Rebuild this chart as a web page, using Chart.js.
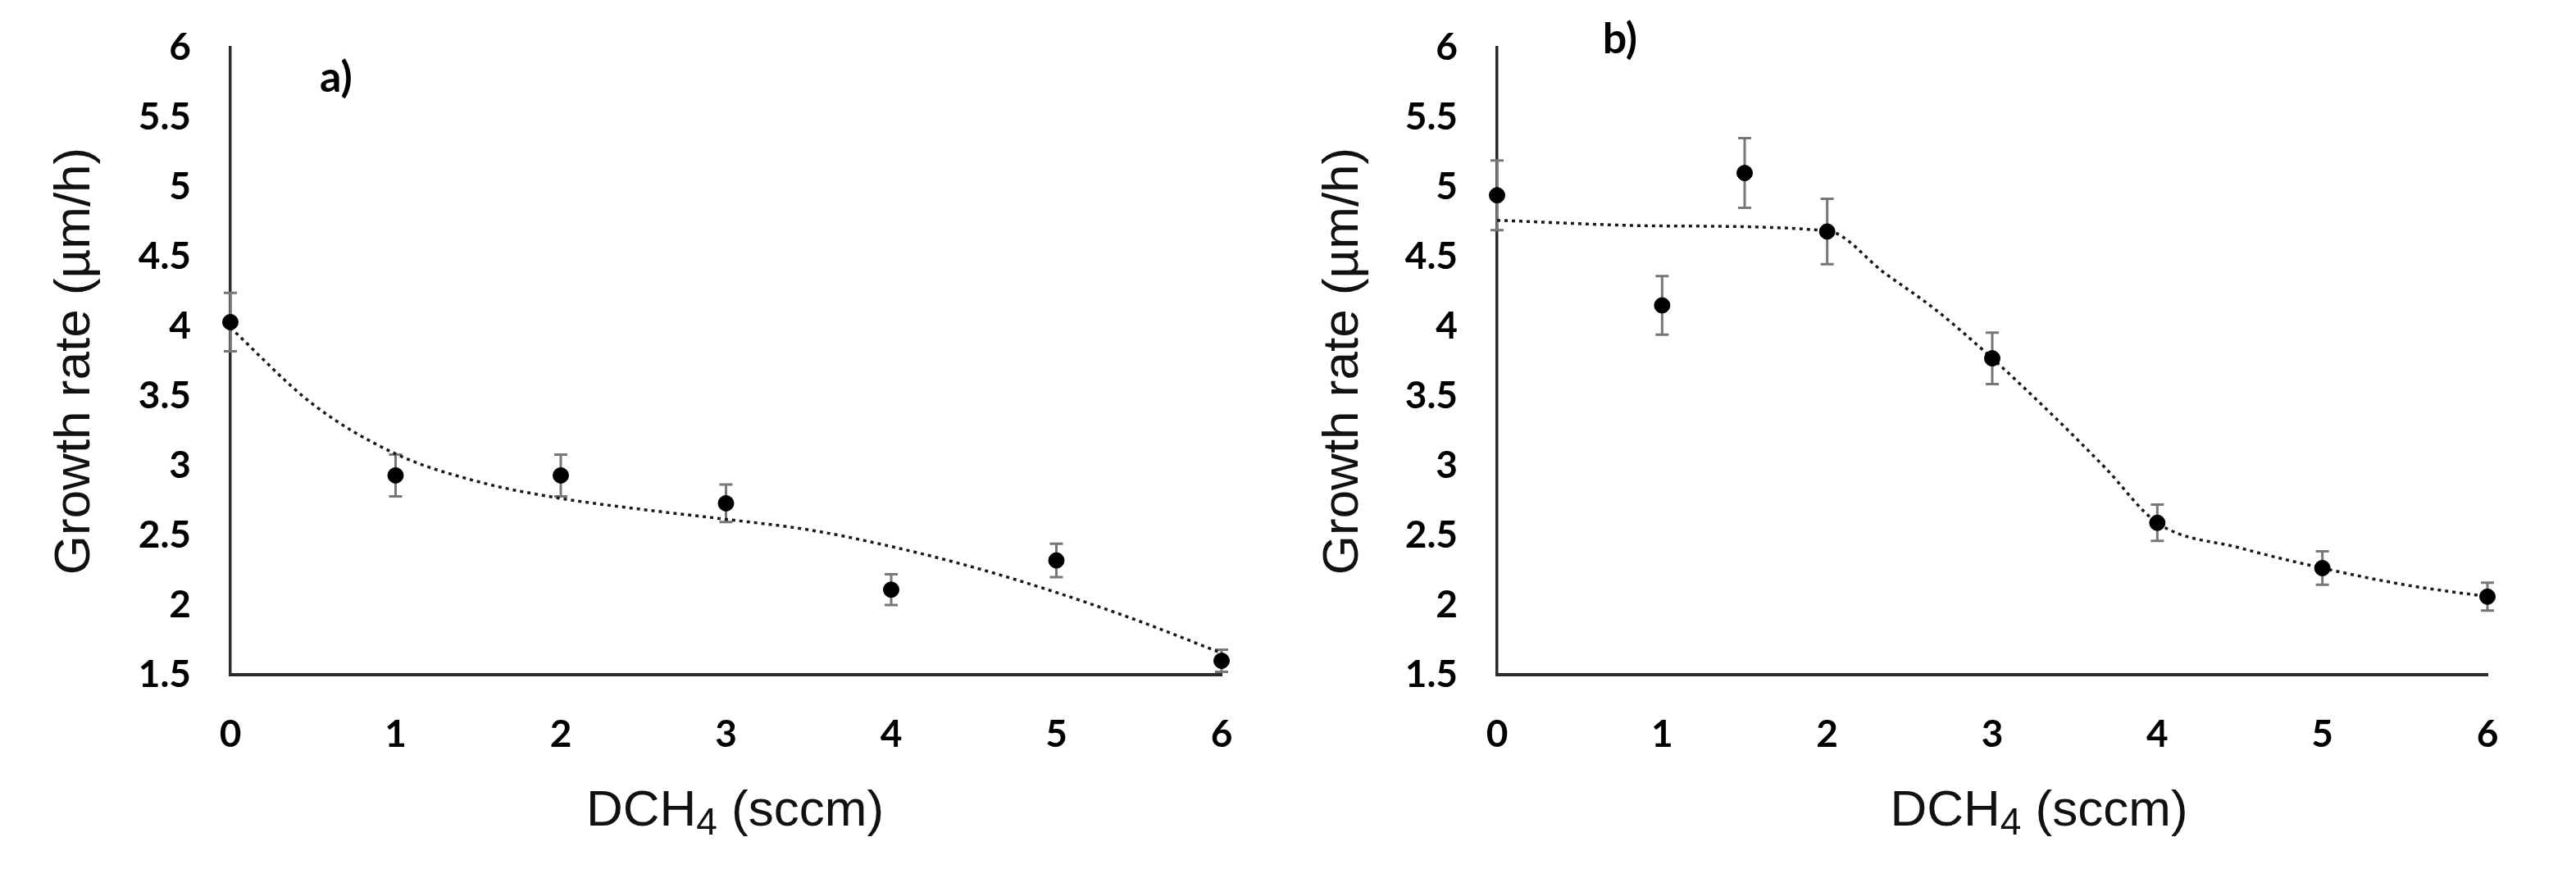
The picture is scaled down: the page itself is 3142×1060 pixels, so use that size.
<!DOCTYPE html>
<html>
<head>
<meta charset="utf-8">
<script src="https://cdn.jsdelivr.net/npm/chart.js@4.4.1/dist/chart.umd.min.js"></script>
<style>
  html, body { margin: 0; padding: 0; background: #fff; }
  #wrap { position: relative; width: 3142px; height: 1060px; }
  canvas { position: absolute; top: 0; }
</style>
</head>
<body>
<div id="wrap">
  <canvas id="chartA" width="1571" height="1060" style="left:0"></canvas>
  <canvas id="chartB" width="1571" height="1060" style="left:1571px"></canvas>
</div>
<script>
// panel a)
const aFlow = [0, 1, 2, 3, 4, 5, 6];
const aRate = [4.03, 2.93, 2.93, 2.73, 2.11, 2.32, 1.60];
const aErr = [0.21, 0.15, 0.15, 0.135, 0.11, 0.12, 0.08];
const aTrendFlow = [0, 0.5, 1, 1.5, 2, 2.5, 3, 3.5, 4, 4.5, 5, 5.5, 6];
const aTrend = [3.99, 3.44, 3.085, 2.885, 2.765, 2.685, 2.615, 2.54, 2.42, 2.27, 2.09, 1.885, 1.655];

// panel b)
const bFlow = [0, 1, 1.5, 2, 3, 4, 5, 6];
const bRate = [4.94, 4.15, 5.10, 4.68, 3.77, 2.59, 2.265, 2.06];
const bErr = [0.25, 0.21, 0.25, 0.235, 0.185, 0.13, 0.12, 0.10];
const bTrendFlow = [0, 1, 2, 2.35, 2.65, 3, 3.35, 3.68, 4, 4.5, 5, 5.5, 6];
const bTrend = [4.76, 4.72, 4.685, 4.38, 4.125, 3.77, 3.38, 2.99, 2.59, 2.41, 2.265, 2.145, 2.06];

// axes
const xTickLabels = ['0', '1', '2', '3', '4', '5', '6'];
const yTickLabels = ['1.5', '2', '2.5', '3', '3.5', '4', '4.5', '5', '5.5', '6'];

const toPoints = (xs, ys) => xs.map((x, i) => ({ x: x, y: ys[i] }));

const errorBars = {
  id: 'errorBars',
  beforeDatasetsDraw(chart, args, opts) {
    const ds = chart.data.datasets[0];
    const xs = chart.scales.x, ys = chart.scales.y;
    const ctx = chart.ctx;
    ctx.save();
    ctx.strokeStyle = '#777';
    ctx.lineWidth = 3;
    ds.data.forEach((p, i) => {
      const e = opts.errors[i];
      const px = xs.getPixelForValue(p.x);
      const top = ys.getPixelForValue(p.y + e);
      const bot = ys.getPixelForValue(p.y - e);
      ctx.beginPath();
      ctx.moveTo(px, top); ctx.lineTo(px, bot);
      ctx.moveTo(px - 8, top); ctx.lineTo(px + 8, top);
      ctx.moveTo(px - 8, bot); ctx.lineTo(px + 8, bot);
      ctx.stroke();
    });
    ctx.restore();
  }
};

// x axis title with a real subscript
const xTitle = {
  id: 'xTitle',
  afterDraw(chart, args, opts) {
    const ctx = chart.ctx;
    const xs = chart.scales.x;
    const big = '62px "Liberation Sans", Arial, sans-serif';
    const small = '46px "Liberation Sans", Arial, sans-serif';
    ctx.save();
    ctx.fillStyle = '#111';
    ctx.textBaseline = 'alphabetic';
    ctx.font = big;
    const w1 = ctx.measureText('DCH').width;
    const w3 = ctx.measureText(' (sccm)').width;
    ctx.font = small;
    const w2 = ctx.measureText('4').width;
    const cx = (xs.left + xs.right) / 2 + opts.shift;
    let x = cx - (w1 + w2 + w3) / 2;
    const base = xs.bottom - 53;
    ctx.textAlign = 'left';
    ctx.font = big;
    ctx.fillText('DCH', x, base);
    x += w1;
    ctx.font = small;
    ctx.fillText('4', x, base + 11);
    x += w2;
    ctx.font = big;
    ctx.fillText(' (sccm)', x, base);
    ctx.restore();
  }
};

const panelLabel = {
  id: 'panelLabel',
  afterDraw(chart, args, opts) {
    const ctx = chart.ctx;
    ctx.save();
    ctx.fillStyle = '#000';
    ctx.font = 'bold 52px Lato, sans-serif';
    ctx.textAlign = 'center';
    ctx.textBaseline = 'middle';
    ctx.fillText(opts.text, chart.scales.x.getPixelForValue(opts.at[0]), chart.scales.y.getPixelForValue(opts.at[1]));
    ctx.restore();
  }
};

function makeChart(id, flow, rate, err, trendFlow, trend, cfg) {
  return new Chart(document.getElementById(id), {
    type: 'scatter',
    data: {
      datasets: [{
        data: toPoints(flow, rate),
        backgroundColor: '#000',
        borderColor: '#000',
        pointRadius: 9.5,
        pointHoverRadius: 9.5,
        clip: false
      }, {
        data: toPoints(trendFlow, trend),
        showLine: true,
        pointRadius: 0,
        borderColor: '#1a1a1a',
        borderWidth: 3.5,
        borderDash: [4, 5],
        cubicInterpolationMode: 'monotone',
        clip: false
      }]
    },
    options: {
      responsive: false,
      animation: false,
      events: [],
      layout: { padding: { left: 0, top: 58, right: cfg.padRight, bottom: 0 } },
      plugins: {
        legend: { display: false },
        tooltip: { enabled: false },
        errorBars: { errors: err },
        xTitle: { shift: cfg.titleShift },
        panelLabel: { text: cfg.label, at: cfg.labelAt }
      },
      scales: {
        x: {
          type: 'linear', min: 0, max: 6,
          grid: { display: false, drawTicks: false },
          border: { display: true, color: '#2b2b2b', width: 4 },
          ticks: {
            stepSize: 1, padding: 46, color: '#000',
            font: { family: 'Lato', weight: 'bold', size: 46 },
            callback: (v, i) => xTickLabels[i]
          },
          afterFit: s => { s.height = 237; }
        },
        y: {
          type: 'linear', min: 1.5, max: 6,
          grid: { display: false, drawTicks: false },
          border: { display: true, color: '#2b2b2b', width: 3.5 },
          ticks: {
            stepSize: 0.5, padding: 48, color: '#000',
            font: { family: 'Lato', weight: 'bold', size: 46 },
            callback: (v, i) => yTickLabels[i]
          },
          title: {
            display: true, text: 'Growth rate (µm/h)', color: '#111',
            font: { family: 'Liberation Sans', size: 62 },
            padding: { top: cfg.yTitlePad, bottom: 0 }
          },
          afterFit: s => {
            s.width = cfg.yWidth;
            s.paddingTop = 0;
            s.paddingBottom = 0;
          }
        }
      }
    },
    plugins: [errorBars, xTitle, panelLabel]
  });
}

makeChart('chartA', aFlow, aRate, aErr, aTrendFlow, aTrend,
  { padRight: 81, yWidth: 281, yTitlePad: 55, titleShift: 11, label: 'a)', labelAt: [0.64, 5.78] });
makeChart('chartB', bFlow, bRate, bErr, bTrendFlow, bTrend,
  { padRight: 108, yWidth: 255, yTitlePad: 31, titleShift: 57, label: 'b)', labelAt: [0.745, 6.06] });
</script>
</body>
</html>
